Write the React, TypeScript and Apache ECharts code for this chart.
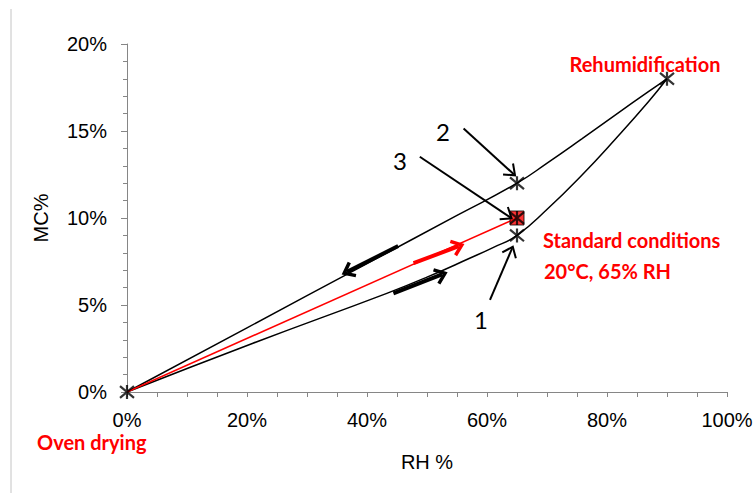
import React, { useEffect, useRef } from "react";
import * as echarts from "echarts";

// Desorption (upper) curve: [RH %, MC %]
const upperCurve: number[][] = [
  [0, 0], [20, 3.69], [40, 7.38], [55, 10.15], [65, 12], [70.2, 13.2], [75.8, 14.55],
  [81.3, 15.9], [86.9, 17.26], [90, 18],
];
// Adsorption (lower) curve
const lowerCurve: number[][] = [
  [0, 0], [21, 2.8], [43.3, 5.67], [50, 6.6], [57.2, 7.7], [61, 8.3], [65, 9], [70.2, 10.56],
  [75.8, 12.46], [81.3, 14.5], [86.9, 16.68], [90, 18],
];
// Red path: oven dry to standard conditions
const redPath: number[][] = [[0, 0], [65, 10]];
// Star markers
const starPoints: number[][] = [[0, 0], [65, 12], [65, 9], [90, 18], [65, 10]];
const squarePoint: number[][] = [[65, 10]];

// Arrows [x1, y1, x2(tip), y2(tip)] in data units
const flowArrows: number[][] = [
  [45.2, 8.39, 36.2, 6.82],
  [44.4, 5.67, 53.0, 6.82],
];
const redArrows: number[][] = [[47.76, 7.4, 55.8, 8.45]];
const pointerArrows: number[][] = [
  [56.1, 15.15, 64.67, 12.45],
  [48.8, 13.52, 64.1, 9.98],
  [60.5, 5.29, 64.3, 8.35],
];

const xTicks = { min: 0, max: 100, interval: 20 };
const yTicks = { min: 0, max: 20, interval: 5 };

const STAR = "path://M0,0L10,10M10,0L0,10M5,-1L5,11";

function arrowRenderer(color: string, shaftW: number, headW: number, headLen: number) {
  return (params: any, api: any) => {
    const p1 = api.coord([api.value(0), api.value(1)]);
    const p2 = api.coord([api.value(2), api.value(3)]);
    const dx = p2[0] - p1[0];
    const dy = p2[1] - p1[1];
    const len = Math.sqrt(dx * dx + dy * dy) || 1;
    const ux = dx / len;
    const uy = dy / len;
    const th = (38 * Math.PI) / 180;
    const c = Math.cos(th);
    const s = Math.sin(th);
    const bx = -ux;
    const by = -uy;
    const a1 = [p2[0] + headLen * (bx * c - by * s), p2[1] + headLen * (bx * s + by * c)];
    const a2 = [p2[0] + headLen * (bx * c + by * s), p2[1] + headLen * (-bx * s + by * c)];
    const end = [p2[0] - ux * shaftW * 0.8, p2[1] - uy * shaftW * 0.8];
    return {
      type: "group",
      children: [
        {
          type: "line",
          shape: { x1: p1[0], y1: p1[1], x2: end[0], y2: end[1] },
          style: { stroke: color, lineWidth: shaftW, lineCap: "butt" },
        },
        {
          type: "polyline",
          shape: { points: [a1, p2, a2] },
          style: { stroke: color, lineWidth: headW, fill: null, lineJoin: "miter", lineCap: "butt" },
        },
      ],
    };
  };
}

export default function App() {
  const ref = useRef<HTMLDivElement>(null);
  useEffect(() => {
    if (!ref.current) return;
    const chart = echarts.init(ref.current, undefined, { renderer: "svg" });
    const axisGray = "#868686";
    const labelFont = { color: "#000", fontSize: 20, fontFamily: "Liberation Sans" };
    chart.setOption({
      animation: false,
      backgroundColor: "#fff",
      grid: { left: 127, right: 29, top: 44, bottom: 101 },
      xAxis: {
        type: "value",
        min: xTicks.min,
        max: xTicks.max,
        interval: xTicks.interval,
        name: "RH %",
        nameLocation: "middle",
        nameGap: 60,
        nameTextStyle: { ...labelFont },
        axisLine: { show: true, lineStyle: { color: axisGray, width: 1 } },
        axisTick: { show: true, inside: false, length: 5, lineStyle: { color: axisGray } },
        minorTick: { show: true, splitNumber: 4, length: 5, lineStyle: { color: axisGray } },
        splitLine: { show: false },
        axisLabel: { ...labelFont, margin: 18, formatter: "{value}%" },
      },
      yAxis: {
        type: "value",
        min: yTicks.min,
        max: yTicks.max,
        interval: yTicks.interval,
        name: "MC%",
        nameLocation: "middle",
        nameGap: 76,
        nameTextStyle: { ...labelFont },
        axisLine: { show: true, lineStyle: { color: axisGray, width: 1 } },
        axisTick: { show: true, inside: false, length: 6, lineStyle: { color: axisGray } },
        minorTick: { show: true, splitNumber: 5, length: 4, lineStyle: { color: axisGray } },
        splitLine: { show: false },
        axisLabel: { ...labelFont, margin: 20, formatter: "{value}%" },
      },
      series: [
        {
          type: "line",
          data: upperCurve,
          smooth: 0.5,
          showSymbol: false,
          lineStyle: { color: "#000", width: 1.5 },
          silent: true,
          z: 2,
        },
        {
          type: "line",
          data: lowerCurve,
          smooth: 0.5,
          showSymbol: false,
          lineStyle: { color: "#000", width: 1.5 },
          silent: true,
          z: 2,
        },
        {
          type: "line",
          data: redPath,
          showSymbol: false,
          lineStyle: { color: "#ff0000", width: 1.5 },
          silent: true,
          z: 3,
        },
        {
          type: "scatter",
          data: squarePoint,
          symbol: "rect",
          symbolSize: 14,
          itemStyle: { color: "#ff0000", borderColor: "#000", borderWidth: 1 },
          silent: true,
          clip: false,
          z: 4,
        },
        {
          type: "scatter",
          data: starPoints,
          symbol: STAR,
          symbolSize: 14,
          itemStyle: { color: "none", borderColor: "#000", borderWidth: 2.2 },
          silent: true,
          clip: false,
          z: 5,
        },
        {
          type: "custom",
          data: flowArrows,
          encode: { x: [0, 2], y: [1, 3] },
          renderItem: arrowRenderer("#000", 4, 3.5, 12),
          silent: true,
          clip: false,
          z: 6,
        },
        {
          type: "custom",
          data: redArrows,
          encode: { x: [0, 2], y: [1, 3] },
          renderItem: arrowRenderer("#ff0000", 4, 3.5, 12),
          silent: true,
          clip: false,
          z: 6,
        },
        {
          type: "custom",
          data: pointerArrows,
          encode: { x: [0, 2], y: [1, 3] },
          renderItem: arrowRenderer("#000", 2, 2, 12),
          silent: true,
          clip: false,
          z: 6,
        },
      ],
      graphic: [
        {
          type: "line",
          shape: { x1: 11, y1: 9, x2: 11, y2: 493 },
          style: { stroke: "#c4c4c4", lineWidth: 1 },
          silent: true,
        },
        {
          type: "text",
          x: 645,
          y: 64,
          style: { text: "Rehumidification", fill: "#ff0000", font: "bold 20px Lato", align: "center", verticalAlign: "middle" },
        },
        {
          type: "text",
          x: 543,
          y: 240,
          style: { text: "Standard conditions", fill: "#ff0000", font: "bold 20px Lato", align: "left", verticalAlign: "middle" },
        },
        {
          type: "text",
          x: 544,
          y: 271,
          style: { text: "20°C, 65% RH", fill: "#ff0000", font: "bold 20px Lato", align: "left", verticalAlign: "middle" },
        },
        {
          type: "text",
          x: 37,
          y: 442,
          style: { text: "Oven drying", fill: "#ff0000", font: "bold 20px Lato", align: "left", verticalAlign: "middle" },
        },
        {
          type: "text",
          x: 443,
          y: 131,
          style: { text: "2", fill: "#000", font: "24px Lato", align: "center", verticalAlign: "middle" },
        },
        {
          type: "text",
          x: 400,
          y: 160,
          style: { text: "3", fill: "#000", font: "24px Lato", align: "center", verticalAlign: "middle" },
        },
        {
          type: "text",
          x: 481,
          y: 319,
          style: { text: "1", fill: "#000", font: "24px Lato", align: "center", verticalAlign: "middle" },
        },
      ],
    });
    return () => chart.dispose();
  }, []);
  return (
    <div
      ref={ref}
      style={{ position: "fixed", left: 0, top: 0, width: 756, height: 493, background: "#fff" }}
    />
  );
}
